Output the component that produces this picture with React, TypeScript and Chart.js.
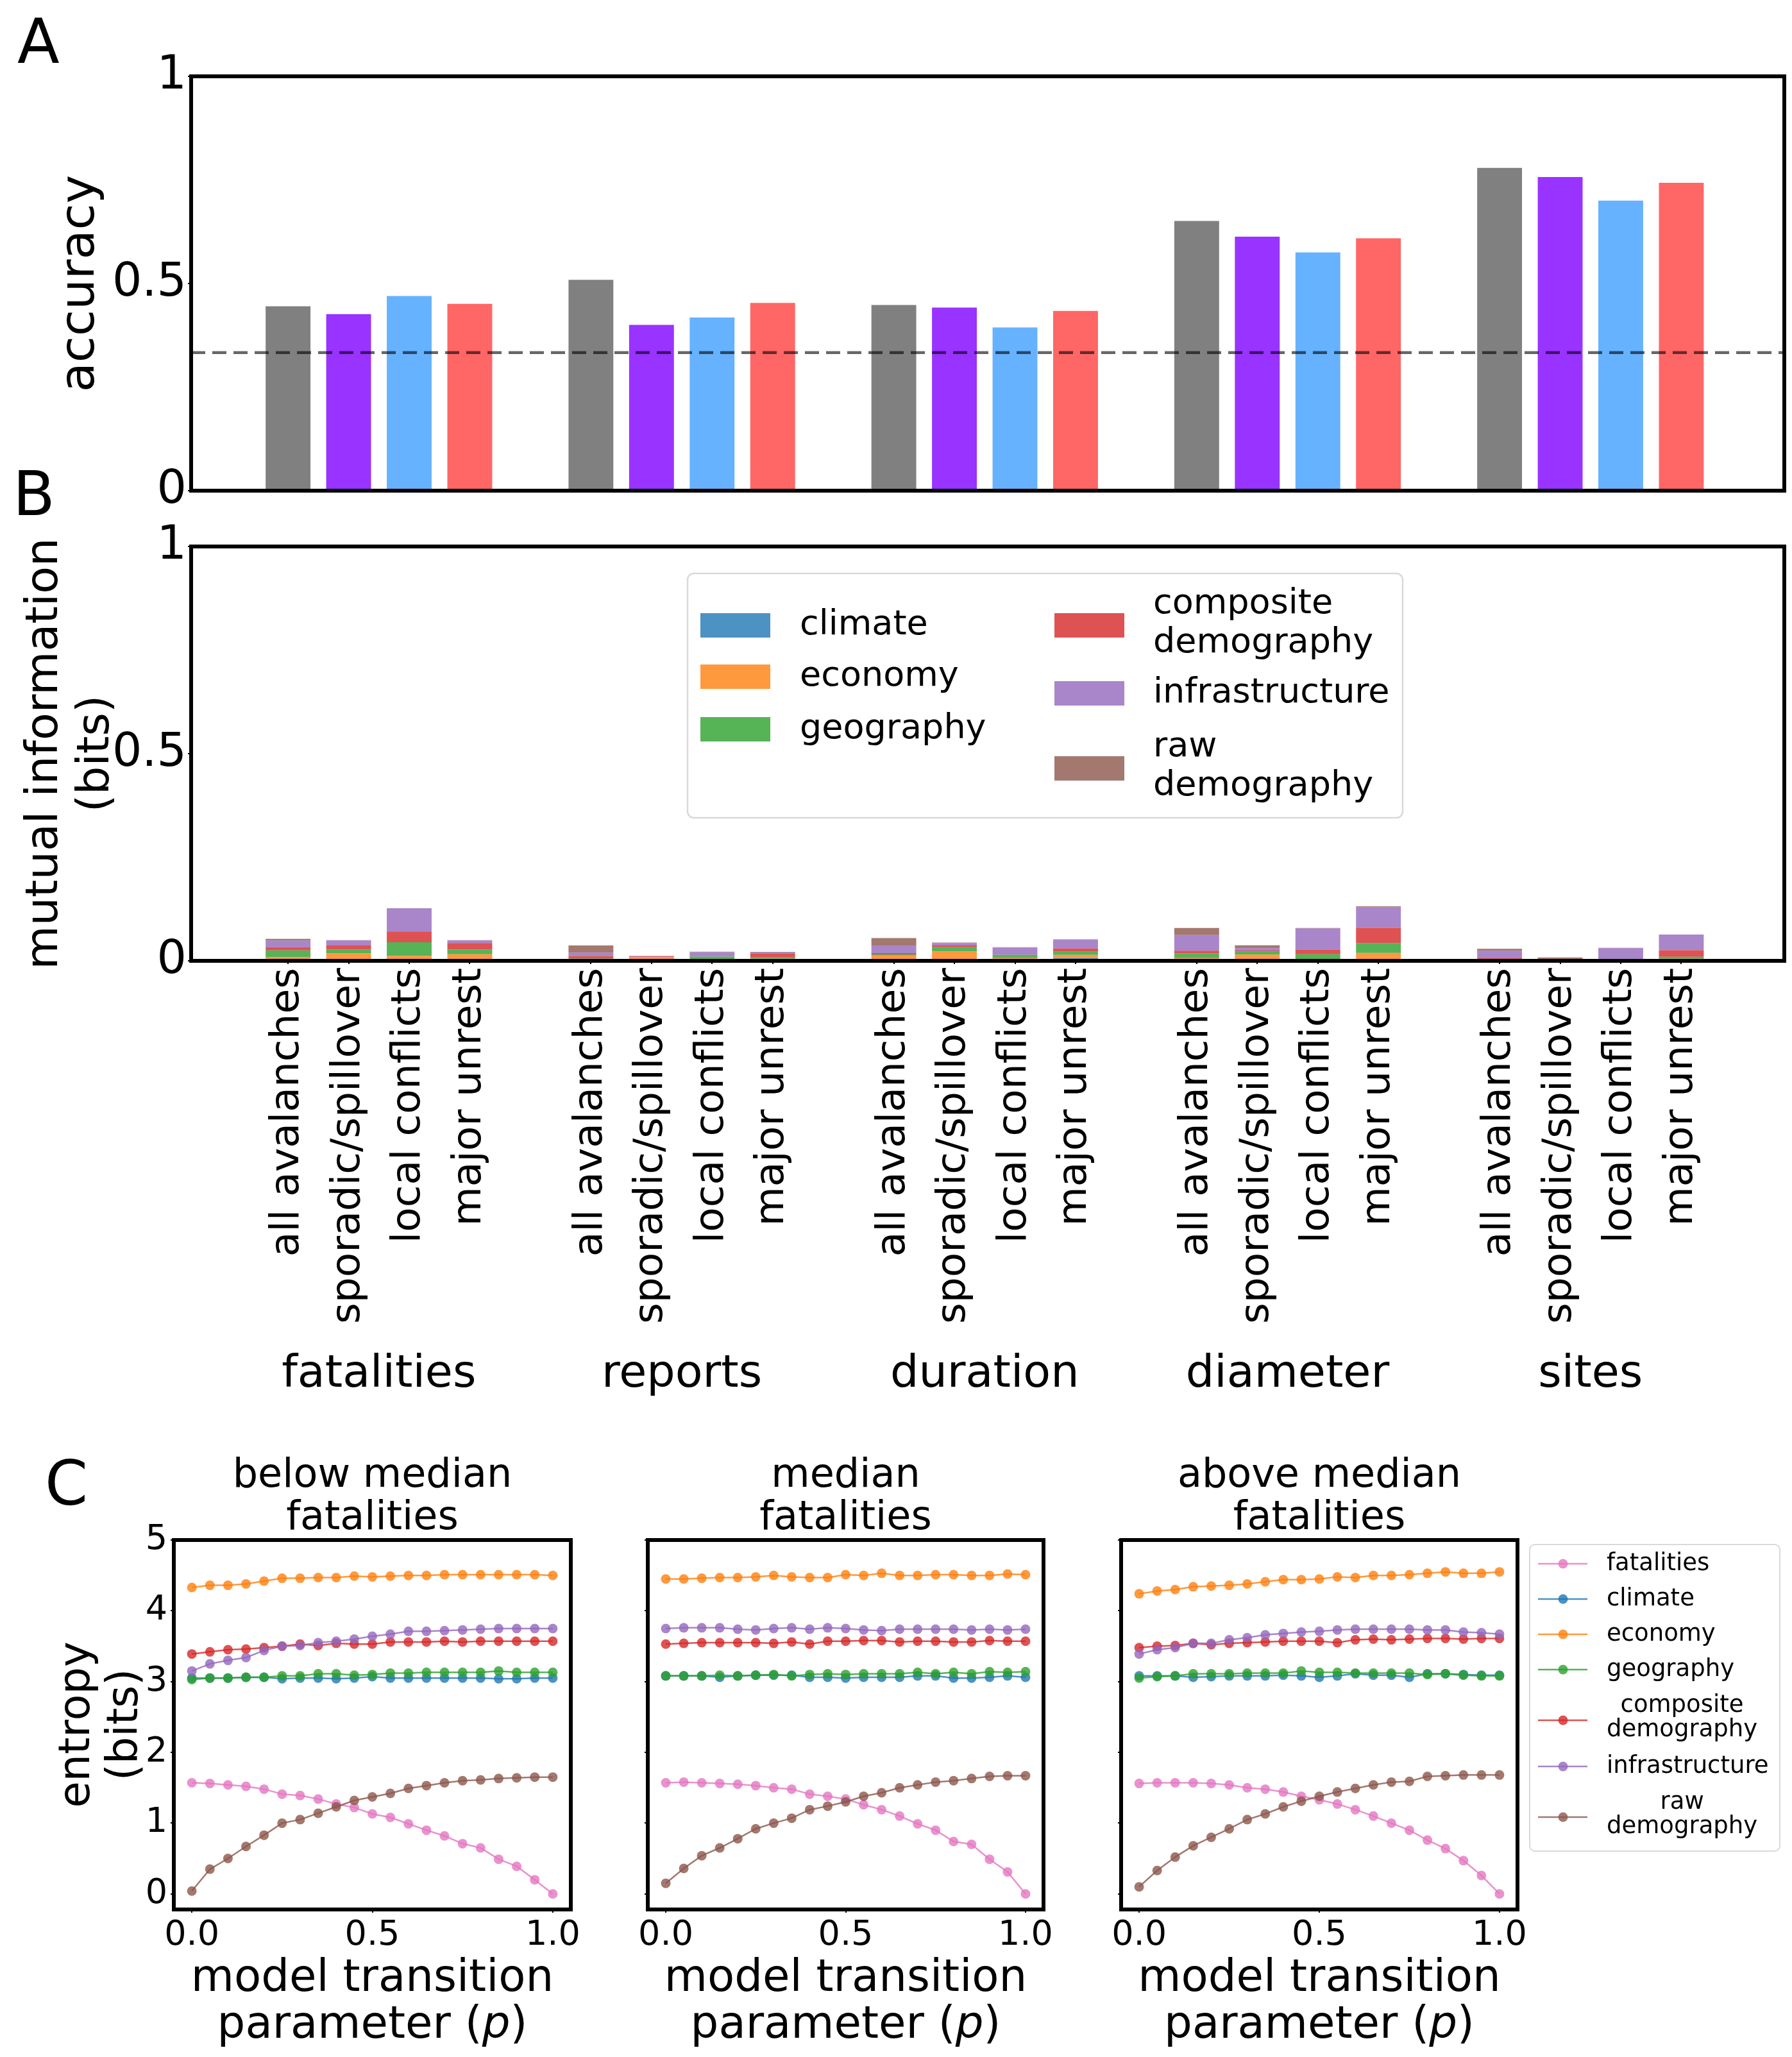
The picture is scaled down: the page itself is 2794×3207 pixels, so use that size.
import React, { useEffect, useRef } from 'react';
import { Chart, registerables } from 'chart.js';

Chart.register(...registerables);

const FONT = '"DejaVu Sans", sans-serif';
Chart.defaults.font.family = FONT;
Chart.defaults.color = '#000';

// ---------------- Panels A / B : categories ----------------
const GROUPS = ['fatalities', 'reports', 'duration', 'diameter', 'sites'];
const SUBCATS = ['all avalanches', 'sporadic/spillover', 'local conflicts', 'major unrest'];
const SUBCAT_COLORS = ['#808080', '#9933ff', '#66b2ff', '#ff6666'];

// ---------------- Panel A : accuracy (one value per group) ----------------
const ACC_ALL = [0.445, 0.509, 0.448, 0.651, 0.779];
const ACC_SPORADIC = [0.426, 0.4, 0.442, 0.613, 0.757];
const ACC_LOCAL = [0.47, 0.418, 0.394, 0.575, 0.7];
const ACC_MAJOR = [0.451, 0.453, 0.434, 0.609, 0.743];
const ACCURACY = [ACC_ALL, ACC_SPORADIC, ACC_LOCAL, ACC_MAJOR];
const CHANCE = 1 / 3;
const UNIT_TICKS = [0, 0.5, 1];
const UNIT_TICK_LABELS = ['0', '0.5', '1'];

// ---------------- Panel B : mutual information (bits), group x subcategory ----------------
const MI_CLIMATE = [
  0, 0, 0, 0,
  0, 0, 0, 0,
  0.0026, 0, 0, 0.0067,
  0, 0, 0, 0,
  0, 0, 0, 0,
];
const MI_ECONOMY = [
  0.009, 0.018, 0.012, 0.016,
  0.0036, 0.009, 0.002, 0.005,
  0.01, 0.023, 0.0067, 0.0077,
  0.0067, 0.015, 0, 0.019,
  0, 0, 0, 0.005,
];
const MI_GEOGRAPHY = [
  0.016, 0.009, 0.033, 0.011,
  0.002, 0, 0.008, 0.003,
  0.003, 0.01, 0.0077, 0.0077,
  0.011, 0.0077, 0.016, 0.024,
  0.0026, 0.0026, 0.0015, 0.0046,
];
const MI_COMPOSITE = [
  0.008, 0.01, 0.026, 0.016,
  0.006, 0.0015, 0, 0.009,
  0.003, 0.004, 0, 0.0077,
  0.0067, 0.002, 0.011, 0.0366,
  0.0036, 0, 0.002, 0.016,
];
const MI_INFRASTRUCTURE = [
  0.016, 0.012, 0.056, 0.006,
  0.008, 0.0015, 0.011, 0.0035,
  0.0175, 0.0057, 0.0175, 0.021,
  0.038, 0.0057, 0.051, 0.05,
  0.018, 0.002, 0.027, 0.038,
];
const MI_RAW = [
  0.004, 0.001, 0, 0.001,
  0.0175, 0, 0.001, 0.001,
  0.019, 0.0015, 0.001, 0.001,
  0.017, 0.007, 0.0015, 0.002,
  0.005, 0.0036, 0.001, 0,
];
const MI_SERIES = [MI_CLIMATE, MI_ECONOMY, MI_GEOGRAPHY, MI_COMPOSITE, MI_INFRASTRUCTURE, MI_RAW];
const FEATURES = ['climate', 'economy', 'geography', 'composite\ndemography', 'infrastructure', 'raw\ndemography'];
const FEATURE_COLORS = [
  'rgba(31,119,180,0.8)',
  'rgba(255,127,14,0.8)',
  'rgba(44,160,44,0.8)',
  'rgba(214,39,40,0.8)',
  'rgba(148,103,189,0.8)',
  'rgba(140,86,75,0.8)',
];

// ---------------- Panel C : entropy (bits) vs model transition parameter ----------------
const P_VALUES = [0, 0.05, 0.1, 0.15, 0.2, 0.25, 0.3, 0.35, 0.4, 0.45, 0.5, 0.55, 0.6, 0.65, 0.7, 0.75, 0.8, 0.85, 0.9, 0.95, 1];
const C_SERIES = ['fatalities', 'climate', 'economy', 'geography', 'composite\ndemography', 'infrastructure', 'raw\ndemography'];
const C_COLORS = ['227,119,194', '31,119,180', '255,127,14', '44,160,44', '214,39,40', '148,103,189', '140,86,75'];
const C_TITLES = [['below median', 'fatalities'], ['median', 'fatalities'], ['above median', 'fatalities']];
const ENTROPY_TICKS = [0, 1, 2, 3, 4, 5];
const P_TICKS = [0, 0.5, 1];

const BELOW_FATALITIES = [1.57, 1.56, 1.54, 1.52, 1.48, 1.41, 1.39, 1.34, 1.27, 1.22, 1.13, 1.08, 0.99, 0.9, 0.82, 0.71, 0.65, 0.49, 0.39, 0.2, 0.0];
const BELOW_CLIMATE = [3.05, 3.05, 3.05, 3.06, 3.06, 3.04, 3.05, 3.05, 3.04, 3.05, 3.07, 3.05, 3.05, 3.05, 3.05, 3.05, 3.05, 3.04, 3.04, 3.05, 3.05];
const BELOW_ECONOMY = [4.33, 4.36, 4.36, 4.38, 4.42, 4.46, 4.46, 4.47, 4.47, 4.49, 4.48, 4.49, 4.5, 4.5, 4.51, 4.51, 4.51, 4.51, 4.51, 4.51, 4.5];
const BELOW_GEOGRAPHY = [3.03, 3.05, 3.05, 3.06, 3.06, 3.08, 3.08, 3.11, 3.11, 3.09, 3.1, 3.12, 3.12, 3.13, 3.13, 3.13, 3.13, 3.15, 3.13, 3.13, 3.13];
const BELOW_COMPOSITE = [3.39, 3.42, 3.45, 3.46, 3.48, 3.5, 3.53, 3.51, 3.54, 3.53, 3.53, 3.56, 3.56, 3.56, 3.57, 3.56, 3.57, 3.57, 3.57, 3.57, 3.57];
const BELOW_INFRASTRUCTURE = [3.15, 3.25, 3.3, 3.34, 3.44, 3.5, 3.51, 3.55, 3.57, 3.6, 3.64, 3.67, 3.71, 3.71, 3.72, 3.73, 3.74, 3.75, 3.75, 3.75, 3.75];
const BELOW_RAW = [0.04, 0.35, 0.5, 0.67, 0.83, 1.0, 1.05, 1.14, 1.23, 1.32, 1.37, 1.42, 1.49, 1.53, 1.57, 1.6, 1.61, 1.63, 1.64, 1.65, 1.65];

const MEDIAN_FATALITIES = [1.57, 1.58, 1.57, 1.56, 1.55, 1.53, 1.5, 1.48, 1.41, 1.38, 1.34, 1.26, 1.19, 1.1, 0.99, 0.9, 0.74, 0.7, 0.49, 0.31, 0.0];
const MEDIAN_CLIMATE = [3.08, 3.08, 3.08, 3.06, 3.08, 3.09, 3.09, 3.09, 3.06, 3.06, 3.05, 3.06, 3.06, 3.06, 3.08, 3.08, 3.05, 3.05, 3.06, 3.08, 3.06];
const MEDIAN_ECONOMY = [4.45, 4.45, 4.46, 4.47, 4.47, 4.48, 4.5, 4.48, 4.47, 4.47, 4.51, 4.5, 4.53, 4.5, 4.5, 4.51, 4.51, 4.5, 4.5, 4.52, 4.51];
const MEDIAN_GEOGRAPHY = [3.08, 3.08, 3.08, 3.09, 3.08, 3.09, 3.1, 3.08, 3.1, 3.11, 3.1, 3.11, 3.11, 3.11, 3.13, 3.11, 3.13, 3.11, 3.14, 3.13, 3.14];
const MEDIAN_COMPOSITE = [3.53, 3.54, 3.55, 3.55, 3.55, 3.55, 3.54, 3.56, 3.53, 3.57, 3.57, 3.58, 3.58, 3.56, 3.57, 3.57, 3.56, 3.56, 3.58, 3.57, 3.57];
const MEDIAN_INFRASTRUCTURE = [3.75, 3.76, 3.76, 3.76, 3.74, 3.73, 3.75, 3.76, 3.74, 3.76, 3.75, 3.73, 3.72, 3.74, 3.74, 3.74, 3.74, 3.73, 3.74, 3.73, 3.74];
const MEDIAN_RAW = [0.15, 0.36, 0.54, 0.65, 0.78, 0.92, 1.0, 1.07, 1.19, 1.24, 1.3, 1.38, 1.43, 1.5, 1.54, 1.58, 1.6, 1.63, 1.66, 1.67, 1.67];

const ABOVE_FATALITIES = [1.56, 1.57, 1.57, 1.57, 1.56, 1.54, 1.5, 1.48, 1.44, 1.38, 1.33, 1.27, 1.19, 1.1, 1.0, 0.9, 0.76, 0.64, 0.47, 0.26, 0.0];
const ABOVE_CLIMATE = [3.08, 3.08, 3.08, 3.06, 3.07, 3.08, 3.08, 3.08, 3.09, 3.08, 3.06, 3.08, 3.11, 3.09, 3.09, 3.06, 3.11, 3.11, 3.1, 3.09, 3.09];
const ABOVE_ECONOMY = [4.24, 4.28, 4.3, 4.34, 4.35, 4.36, 4.38, 4.41, 4.44, 4.44, 4.45, 4.48, 4.47, 4.5, 4.5, 4.51, 4.53, 4.55, 4.53, 4.53, 4.55];
const ABOVE_GEOGRAPHY = [3.05, 3.07, 3.08, 3.11, 3.11, 3.11, 3.12, 3.12, 3.12, 3.15, 3.13, 3.13, 3.12, 3.12, 3.12, 3.12, 3.1, 3.11, 3.09, 3.08, 3.08];
const ABOVE_COMPOSITE = [3.48, 3.5, 3.51, 3.54, 3.52, 3.54, 3.55, 3.56, 3.57, 3.57, 3.57, 3.55, 3.59, 3.6, 3.59, 3.6, 3.61, 3.61, 3.6, 3.61, 3.61];
const ABOVE_INFRASTRUCTURE = [3.39, 3.45, 3.48, 3.54, 3.54, 3.59, 3.62, 3.66, 3.68, 3.7, 3.71, 3.73, 3.74, 3.74, 3.74, 3.74, 3.73, 3.73, 3.7, 3.69, 3.67];
const ABOVE_RAW = [0.1, 0.33, 0.52, 0.68, 0.8, 0.92, 1.05, 1.13, 1.23, 1.31, 1.38, 1.44, 1.49, 1.54, 1.58, 1.59, 1.66, 1.67, 1.68, 1.68, 1.68];

const C_PANELS = [
  [BELOW_FATALITIES, BELOW_CLIMATE, BELOW_ECONOMY, BELOW_GEOGRAPHY, BELOW_COMPOSITE, BELOW_INFRASTRUCTURE, BELOW_RAW],
  [MEDIAN_FATALITIES, MEDIAN_CLIMATE, MEDIAN_ECONOMY, MEDIAN_GEOGRAPHY, MEDIAN_COMPOSITE, MEDIAN_INFRASTRUCTURE, MEDIAN_RAW],
  [ABOVE_FATALITIES, ABOVE_CLIMATE, ABOVE_ECONOMY, ABOVE_GEOGRAPHY, ABOVE_COMPOSITE, ABOVE_INFRASTRUCTURE, ABOVE_RAW],
];

// ---------------- layout helpers ----------------
const SLOT = SUBCATS.length + 1;
const xPos = (g: number, i: number) => g * SLOT + i;
const X_MIN = -1.6;
const X_MAX = 24.7;
const BAR_POSITIONS = GROUPS.flatMap((_, g) => SUBCATS.map((__, i) => xPos(g, i)));
const GROUP_CENTERS = GROUPS.map((_, g) => xPos(g, (SUBCATS.length - 1) / 2));

const tickGrid = { display: true, drawOnChartArea: false, drawTicks: true, tickLength: 5, color: '#000', lineWidth: 2, offset: false };

function roundRect(ctx: any, x: number, y: number, w: number, h: number, r: number) {
  ctx.beginPath();
  ctx.moveTo(x + r, y);
  ctx.arcTo(x + w, y, x + w, y + h, r);
  ctx.arcTo(x + w, y + h, x, y + h, r);
  ctx.arcTo(x, y + h, x, y, r);
  ctx.arcTo(x, y, x + w, y, r);
  ctx.closePath();
}

const framePlugin = (lw: number) => ({
  id: 'frame',
  afterDatasetsDraw(chart: any) {
    const { ctx, chartArea: a } = chart;
    ctx.save();
    ctx.strokeStyle = '#000';
    ctx.lineWidth = lw;
    ctx.strokeRect(a.left, a.top, a.right - a.left, a.bottom - a.top);
    ctx.restore();
  },
});

const chancePlugin = {
  id: 'chance',
  afterDatasetsDraw(chart: any) {
    const { ctx, chartArea: a, scales } = chart;
    const y = scales.y.getPixelForValue(CHANCE);
    ctx.save();
    ctx.strokeStyle = 'rgba(0,0,0,0.6)';
    ctx.lineWidth = 4.5;
    ctx.setLineDash([22, 11]);
    ctx.beginPath();
    ctx.moveTo(a.left, y);
    ctx.lineTo(a.right, y);
    ctx.stroke();
    ctx.restore();
  },
};

const bLegendPlugin = {
  id: 'bLegend',
  afterDraw(chart: any) {
    const { ctx, chartArea: a } = chart;
    const x0 = a.left + 774;
    const y0 = a.top + 42;
    const w = 1115;
    const h = 381;
    ctx.save();
    roundRect(ctx, x0, y0, w, h, 10);
    ctx.fillStyle = 'rgba(255,255,255,0.8)';
    ctx.fill();
    ctx.strokeStyle = '#d9d9d9';
    ctx.lineWidth = 2.5;
    ctx.stroke();
    const cols = [
      { px: 20, tx: 175, rows: [81, 161, 243] },
      { px: 572, tx: 726, rows: [81, 187, 304] },
    ];
    chart.data.datasets.forEach((ds: any, i: number) => {
      const col = cols[Math.floor(i / 3)];
      const cy = y0 + col.rows[i % 3];
      ctx.fillStyle = ds.backgroundColor;
      ctx.fillRect(x0 + col.px, cy - 19, 109, 38);
      const lines = String(ds.label).split('\n');
      ctx.fillStyle = '#000';
      ctx.font = `54px ${FONT}`;
      ctx.textAlign = 'left';
      ctx.textBaseline = 'middle';
      lines.forEach((ln, k) => {
        const off = (k - (lines.length - 1) / 2) * 61 - (lines.length > 1 ? 3 : 0);
        ctx.fillText(ln, x0 + col.tx, cy + off);
      });
    });
    ctx.restore();
  },
};

const cXTitlePlugin = {
  id: 'cXTitle',
  afterDraw(chart: any) {
    const { ctx, chartArea: a } = chart;
    const cx = (a.left + a.right) / 2;
    const normal = `69px ${FONT}`;
    const italic = `italic 69px ${FONT}`;
    ctx.save();
    ctx.fillStyle = '#000';
    ctx.textBaseline = 'alphabetic';
    ctx.textAlign = 'center';
    ctx.font = normal;
    ctx.fillText('model transition', cx, a.bottom + 127);
    const parts = [['parameter (', normal], ['p', italic], [')', normal]];
    let total = 0;
    const widths = parts.map(([t, f]) => {
      ctx.font = f;
      const wd = ctx.measureText(t).width;
      total += wd;
      return wd;
    });
    let x = cx - total / 2;
    ctx.textAlign = 'left';
    parts.forEach(([t, f], k) => {
      ctx.font = f;
      ctx.fillText(t, x, a.bottom + 200);
      x += widths[k];
    });
    ctx.restore();
  },
};

const cLegendPlugin = {
  id: 'cLegend',
  afterDraw(chart: any) {
    const { ctx, chartArea: a } = chart;
    const x0 = a.right + 19;
    const y0 = a.top + 7;
    const w = 390;
    const h = 478;
    const rows = [30, 85, 140, 195, 274, 346, 425];
    ctx.save();
    roundRect(ctx, x0, y0, w, h, 8);
    ctx.fillStyle = 'rgba(255,255,255,0.8)';
    ctx.fill();
    ctx.strokeStyle = '#d9d9d9';
    ctx.lineWidth = 2;
    ctx.stroke();
    ctx.font = `37px ${FONT}`;
    chart.data.datasets.forEach((ds: any, i: number) => {
      const cy = y0 + rows[i];
      ctx.strokeStyle = ds.borderColor;
      ctx.lineWidth = 2.5;
      ctx.beginPath();
      ctx.moveTo(x0 + 13, cy);
      ctx.lineTo(x0 + 90, cy);
      ctx.stroke();
      ctx.fillStyle = ds.pointBackgroundColor;
      ctx.beginPath();
      ctx.arc(x0 + 52, cy, 7.5, 0, Math.PI * 2);
      ctx.fill();
      const lines = String(ds.label).split('\n');
      ctx.fillStyle = '#000';
      ctx.textBaseline = 'middle';
      if (lines.length === 1) {
        ctx.textAlign = 'left';
        ctx.fillText(lines[0], x0 + 120, cy);
      } else {
        const maxW = Math.max(...lines.map((l) => ctx.measureText(l).width));
        ctx.textAlign = 'center';
        lines.forEach((ln, k) => {
          ctx.fillText(ln, x0 + 120 + maxW / 2, cy + (k - (lines.length - 1) / 2) * 38 - 4);
        });
      }
    });
    ctx.restore();
  },
};

function makeA(canvas: HTMLCanvasElement) {
  return new Chart(canvas, {
    type: 'bar',
    data: {
      datasets: SUBCATS.map((name, i) => ({
        label: name,
        data: GROUPS.map((_, g) => ({ x: xPos(g, i), y: ACCURACY[i][g] })),
        backgroundColor: SUBCAT_COLORS[i],
        borderWidth: 0,
        grouped: false,
        categoryPercentage: 1,
        barPercentage: 0.74,
      })),
    },
    options: {
      responsive: false,
      animation: false,
      devicePixelRatio: 1,
      layout: { autoPadding: false, padding: { top: 119, right: 12, bottom: 65, left: 0 } },
      plugins: { legend: { display: false }, tooltip: { enabled: false }, title: { display: false } },
      scales: {
        x: {
          type: 'linear',
          min: X_MIN,
          max: X_MAX,
          offset: false,
          ticks: { display: false },
          grid: { display: false, offset: false },
          border: { display: false },
          afterFit: (s: any) => { s.height = 0; },
        },
        y: {
          min: 0,
          max: 1,
          afterBuildTicks: (s: any) => { s.ticks = UNIT_TICKS.map((v) => ({ value: v })); },
          ticks: { callback: (_v: any, i: number) => UNIT_TICK_LABELS[i], font: { size: 73 }, color: '#000', padding: 2 },
          grid: tickGrid,
          border: { display: false },
          title: { display: true, text: 'accuracy', font: { size: 75 }, color: '#000', padding: { top: 82, bottom: 0 } },
          afterFit: (s: any) => { s.width = 298; },
        },
      },
    } as any,
    plugins: [framePlugin(6), chancePlugin],
  });
}

function makeB(canvas: HTMLCanvasElement) {
  return new Chart(canvas, {
    type: 'bar',
    data: {
      datasets: FEATURES.map((name, f) => ({
        label: name,
        data: MI_SERIES[f].map((v, k) => ({ x: BAR_POSITIONS[k], y: v })),
        backgroundColor: FEATURE_COLORS[f],
        borderWidth: 0,
        grouped: false,
        categoryPercentage: 1,
        barPercentage: 0.74,
      })),
    },
    options: {
      responsive: false,
      animation: false,
      devicePixelRatio: 1,
      layout: { autoPadding: false, padding: { top: 49, right: 12, bottom: 48, left: 0 } },
      plugins: { legend: { display: false }, tooltip: { enabled: false }, title: { display: false } },
      scales: {
        x: {
          type: 'linear',
          min: X_MIN,
          max: X_MAX,
          offset: false,
          stacked: true,
          afterBuildTicks: (s: any) => { s.ticks = BAR_POSITIONS.map((v) => ({ value: v })); },
          ticks: {
            autoSkip: false,
            minRotation: 90,
            maxRotation: 90,
            font: { size: 63 },
            color: '#000',
            padding: 6,
            callback: (_v: any, i: number) => SUBCATS[i % SUBCATS.length],
          },
          grid: tickGrid,
          border: { display: false },
          afterFit: (s: any) => { s.height = 597; },
        },
        xg: {
          type: 'linear',
          axis: 'x',
          position: 'bottom',
          weight: 1,
          min: X_MIN,
          max: X_MAX,
          offset: false,
          afterBuildTicks: (s: any) => { s.ticks = GROUP_CENTERS.map((v) => ({ value: v })); },
          ticks: {
            autoSkip: false,
            minRotation: 0,
            maxRotation: 0,
            font: { size: 70 },
            color: '#000',
            padding: 7,
            callback: (_v: any, i: number) => GROUPS[i],
          },
          grid: { display: false, drawTicks: false },
          border: { display: false },
          afterFit: (s: any) => { s.height = 90; },
        },
        y: {
          min: 0,
          max: 1,
          stacked: true,
          afterBuildTicks: (s: any) => { s.ticks = UNIT_TICKS.map((v) => ({ value: v })); },
          ticks: { callback: (_v: any, i: number) => UNIT_TICK_LABELS[i], font: { size: 73 }, color: '#000', padding: 2 },
          grid: tickGrid,
          border: { display: false },
          title: {
            display: true,
            text: ['mutual information', '(bits)'],
            font: { size: 70, lineHeight: 1.14 },
            color: '#000',
            padding: { top: 31, bottom: 0 },
          },
          afterFit: (s: any) => { s.width = 298; },
        },
      },
    } as any,
    plugins: [framePlugin(6), bLegendPlugin],
  });
}

function makeC(canvas: HTMLCanvasElement, panel: number, yWidth: number, padRight: number, showY: boolean, withLegend: boolean) {
  const series = C_PANELS[panel];
  const plugins: any[] = [framePlugin(6), cXTitlePlugin];
  if (withLegend) plugins.push(cLegendPlugin);
  return new Chart(canvas, {
    type: 'line',
    data: {
      datasets: C_SERIES.map((name, s) => ({
        label: name,
        data: P_VALUES.map((p, k) => ({ x: p, y: series[s][k] })),
        borderColor: `rgba(${C_COLORS[s]},0.8)`,
        backgroundColor: `rgba(${C_COLORS[s]},0.8)`,
        pointBackgroundColor: `rgba(${C_COLORS[s]},0.8)`,
        pointBorderWidth: 0,
        pointRadius: 7.5,
        borderWidth: 2.5,
        order: -s,
      })),
    },
    options: {
      responsive: false,
      animation: false,
      devicePixelRatio: 1,
      layout: { autoPadding: false, padding: { top: 0, right: padRight, bottom: 0, left: 0 } },
      plugins: {
        legend: { display: false },
        tooltip: { enabled: false },
        title: {
          display: true,
          text: C_TITLES[panel],
          fullSize: false,
          font: { size: 62, lineHeight: 66 / 62, weight: 'normal' },
          color: '#000',
          padding: { top: 69, bottom: 0 },
        },
      },
      scales: {
        x: {
          type: 'linear',
          min: -0.05,
          max: 1.05,
          afterBuildTicks: (s: any) => { s.ticks = P_TICKS.map((v) => ({ value: v })); },
          ticks: { callback: (v: any) => Number(v).toFixed(1), font: { size: 54 }, color: '#000', padding: 4, maxRotation: 0 },
          grid: tickGrid,
          border: { display: false },
          afterFit: (s: any) => { s.height = 230; },
        },
        y: {
          min: -0.22,
          max: 5,
          afterBuildTicks: (s: any) => { s.ticks = ENTROPY_TICKS.map((v) => ({ value: v })); },
          ticks: { display: showY, callback: (v: any) => String(v), font: { size: 54 }, color: '#000', padding: 5 },
          grid: tickGrid,
          border: { display: false },
          title: showY
            ? { display: true, text: ['entropy', '(bits)'], font: { size: 67, lineHeight: 1.12 }, color: '#000', padding: { top: 84, bottom: 0 } }
            : { display: false },
          afterFit: (s: any) => { s.width = yWidth; },
        },
      },
    } as any,
    plugins,
  });
}

const letterStyle = (left: number, top: number): React.CSSProperties => ({
  position: 'absolute',
  left,
  top,
  fontFamily: FONT,
  fontSize: 96,
  lineHeight: 1,
  color: '#000',
});

export default function App() {
  const aRef = useRef<HTMLCanvasElement>(null);
  const bRef = useRef<HTMLCanvasElement>(null);
  const c1Ref = useRef<HTMLCanvasElement>(null);
  const c2Ref = useRef<HTMLCanvasElement>(null);
  const c3Ref = useRef<HTMLCanvasElement>(null);

  useEffect(() => {
    document.body.style.margin = '0';
    const charts = [
      makeA(aRef.current as HTMLCanvasElement),
      makeB(bRef.current as HTMLCanvasElement),
      makeC(c1Ref.current as HTMLCanvasElement, 0, 271, 60, true, false),
      makeC(c2Ref.current as HTMLCanvasElement, 1, 60, 63, false, false),
      makeC(c3Ref.current as HTMLCanvasElement, 2, 58, 428, false, true),
    ];
    return () => charts.forEach((c) => c.destroy());
  }, []);

  const cv = (left: number, top: number, w: number, h: number): React.CSSProperties => ({
    position: 'absolute',
    left,
    top,
    width: w,
    height: h,
  });

  return (
    <div style={{ position: 'absolute', left: 0, top: 0, width: 2794, height: 3207, background: '#fff', overflow: 'hidden' }}>
      <canvas ref={aRef} width={2794} height={830} style={cv(0, 0, 2794, 830)} />
      <canvas ref={bRef} width={2794} height={1430} style={cv(0, 803, 2794, 1430)} />
      <canvas ref={c1Ref} width={950} height={1007} style={cv(0, 2200, 950, 1007)} />
      <canvas ref={c2Ref} width={740} height={1007} style={cv(950, 2200, 740, 1007)} />
      <canvas ref={c3Ref} width={1104} height={1007} style={cv(1690, 2200, 1104, 1007)} />
      <div style={letterStyle(27, 17)}>A</div>
      <div style={letterStyle(20, 722)}>B</div>
      <div style={letterStyle(70, 2265)}>C</div>
    </div>
  );
}
